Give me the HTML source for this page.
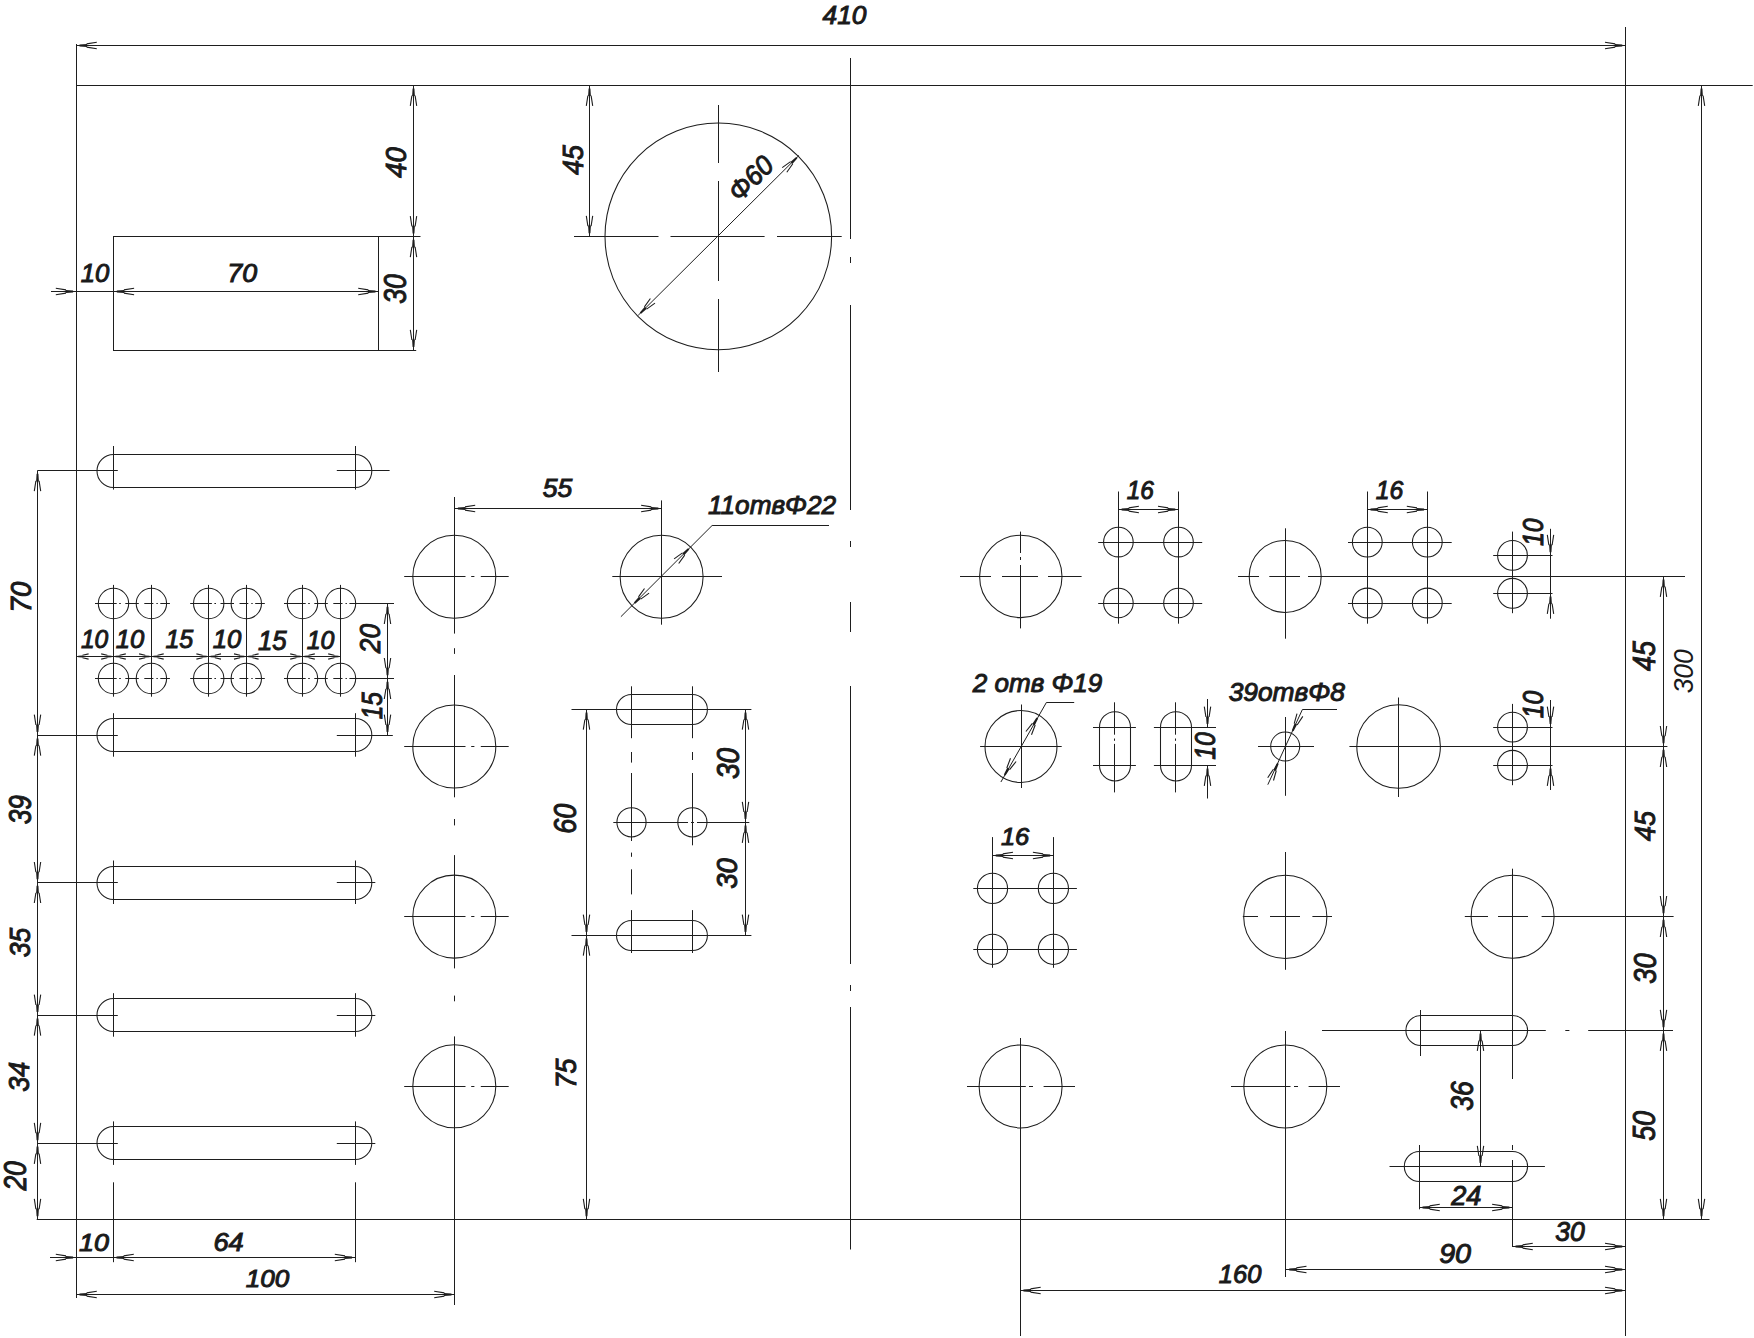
<!DOCTYPE html>
<html><head><meta charset="utf-8"><style>
html,body{margin:0;padding:0;background:#fff;}
svg{display:block;}
.g line,.g rect{fill:none;stroke:#1e1e1e;stroke-width:1;}
.g circle,.g path{fill:none;stroke:#1e1e1e;stroke-width:1.05;}
.g path.f{fill:#1c1c1c;stroke:none;}
.g path.w{stroke-width:1.1;}
text{font-family:"Liberation Sans",sans-serif;fill:#1a1a1a;}
.t{font-weight:normal;font-style:italic;text-anchor:middle;stroke:#1a1a1a;stroke-width:1.0;}
.tl{font-weight:normal;font-style:italic;stroke:#1a1a1a;stroke-width:1.0;}
.tr{font-weight:normal;font-style:italic;text-anchor:middle;}
</style></head><body>
<svg width="1754" height="1338" viewBox="0 0 1754 1338">
<rect x="0" y="0" width="1754" height="1338" fill="#fff"/>
<g class="g">
<line x1="76.3" y1="85.5" x2="1752.7" y2="85.5"/>
<line x1="76.5" y1="44" x2="76.5" y2="1298"/>
<line x1="1625.5" y1="27" x2="1625.5" y2="1336"/>
<line x1="36.7" y1="1219.5" x2="1709.5" y2="1219.5"/>
<line x1="850.5" y1="58" x2="850.5" y2="239"/>
<line x1="850.5" y1="257" x2="850.5" y2="263"/>
<line x1="850.5" y1="305" x2="850.5" y2="510"/>
<line x1="850.5" y1="541" x2="850.5" y2="547"/>
<line x1="850.5" y1="602" x2="850.5" y2="632"/>
<line x1="850.5" y1="686" x2="850.5" y2="964"/>
<line x1="850.5" y1="985" x2="850.5" y2="991"/>
<line x1="850.5" y1="1007" x2="850.5" y2="1249.5"/>
<line x1="76.3" y1="45.5" x2="1625.5" y2="45.5"/>
<path class="f" d="M79.5 46.4L87.1 46.9L87.1 44.1L79.5 44.6Z"/>
<path class="w" d="M86.6 47.1L96.8 48.7M86.6 43.9L96.8 42.3"/>
<path class="f" d="M1622.3 44.6L1614.7 44.1L1614.7 46.9L1622.3 46.4Z"/>
<path class="w" d="M1615.2 43.9L1605 42.3M1615.2 47.1L1605 48.7"/>
<line x1="1701.5" y1="85.3" x2="1701.5" y2="1219.4"/>
<path class="f" d="M1700.6 88.5L1700.1 96.1L1702.9 96.1L1702.4 88.5Z"/>
<path class="w" d="M1699.9 95.6L1698.3 105.8M1703.1 95.6L1704.7 105.8"/>
<path class="f" d="M1702.4 1216.2L1702.9 1208.6L1700.1 1208.6L1700.6 1216.2Z"/>
<path class="w" d="M1703.1 1209.1L1704.7 1198.9M1699.9 1209.1L1698.3 1198.9"/>
<line x1="1663.5" y1="576.4" x2="1663.5" y2="1219.4"/>
<path class="f" d="M1662.6 579.6L1662.1 587.2L1664.9 587.2L1664.4 579.6Z"/>
<path class="w" d="M1661.9 586.7L1660.3 596.9M1665.1 586.7L1666.7 596.9"/>
<path class="f" d="M1664.4 743.3L1664.9 735.7L1662.1 735.7L1662.6 743.3Z"/>
<path class="w" d="M1665.1 736.2L1666.7 726M1661.9 736.2L1660.3 726"/>
<path class="f" d="M1662.6 749.7L1662.1 757.3L1664.9 757.3L1664.4 749.7Z"/>
<path class="w" d="M1661.9 756.8L1660.3 767M1665.1 756.8L1666.7 767"/>
<path class="f" d="M1664.4 913.3L1664.9 905.7L1662.1 905.7L1662.6 913.3Z"/>
<path class="w" d="M1665.1 906.2L1666.7 896M1661.9 906.2L1660.3 896"/>
<path class="f" d="M1662.6 919.7L1662.1 927.3L1664.9 927.3L1664.4 919.7Z"/>
<path class="w" d="M1661.9 926.8L1660.3 937M1665.1 926.8L1666.7 937"/>
<path class="f" d="M1664.4 1027.2L1664.9 1019.6L1662.1 1019.6L1662.6 1027.2Z"/>
<path class="w" d="M1665.1 1020.1L1666.7 1009.9M1661.9 1020.1L1660.3 1009.9"/>
<path class="f" d="M1662.6 1033.6L1662.1 1041.2L1664.9 1041.2L1664.4 1033.6Z"/>
<path class="w" d="M1661.9 1040.7L1660.3 1050.9M1665.1 1040.7L1666.7 1050.9"/>
<path class="f" d="M1664.4 1216.2L1664.9 1208.6L1662.1 1208.6L1662.6 1216.2Z"/>
<path class="w" d="M1665.1 1209.1L1666.7 1198.9M1661.9 1209.1L1660.3 1198.9"/>
<line x1="1238" y1="576.5" x2="1259" y2="576.5"/>
<line x1="1269.3" y1="576.5" x2="1300" y2="576.5"/>
<line x1="1308" y1="576.5" x2="1685" y2="576.5"/>
<line x1="1349.4" y1="746.5" x2="1667.4" y2="746.5"/>
<line x1="1322" y1="1030.5" x2="1545.8" y2="1030.5"/>
<line x1="1565.3" y1="1030.5" x2="1569.4" y2="1030.5"/>
<line x1="1588.2" y1="1030.5" x2="1673" y2="1030.5"/>
<rect x="113.5" y="236.5" width="265" height="114"/>
<line x1="413.5" y1="85.3" x2="413.5" y2="350.3"/>
<path class="f" d="M412.6 88.5L412.1 96.1L414.9 96.1L414.4 88.5Z"/>
<path class="w" d="M411.9 95.6L410.3 105.8M415.1 95.6L416.7 105.8"/>
<path class="f" d="M414.4 233.4L414.9 225.8L412.1 225.8L412.6 233.4Z"/>
<path class="w" d="M415.1 226.3L416.7 216.1M411.9 226.3L410.3 216.1"/>
<path class="f" d="M412.6 239.8L412.1 247.4L414.9 247.4L414.4 239.8Z"/>
<path class="w" d="M411.9 246.9L410.3 257.1M415.1 246.9L416.7 257.1"/>
<path class="f" d="M414.4 347.1L414.9 339.5L412.1 339.5L412.6 347.1Z"/>
<path class="w" d="M415.1 340L416.7 329.8M411.9 340L410.3 329.8"/>
<line x1="378.7" y1="236.5" x2="420.5" y2="236.5"/>
<line x1="378.7" y1="350.5" x2="416.2" y2="350.5"/>
<line x1="51" y1="291.5" x2="378.7" y2="291.5"/>
<path class="f" d="M73.1 290.6L65.5 290.1L65.5 292.9L73.1 292.4Z"/>
<path class="w" d="M66 289.9L55.8 288.3M66 293.1L55.8 294.7"/>
<path class="f" d="M116.8 292.4L124.4 292.9L124.4 290.1L116.8 290.6Z"/>
<path class="w" d="M123.9 293.1L134.1 294.7M123.9 289.9L134.1 288.3"/>
<path class="f" d="M375.5 290.6L367.9 290.1L367.9 292.9L375.5 292.4Z"/>
<path class="w" d="M368.4 289.9L358.2 288.3M368.4 293.1L358.2 294.7"/>
<circle cx="718.3" cy="236.4" r="113.3"/>
<line x1="574" y1="236.5" x2="658.5" y2="236.5"/>
<line x1="670.5" y1="236.5" x2="764.6" y2="236.5"/>
<line x1="777" y1="236.5" x2="841.7" y2="236.5"/>
<line x1="718.5" y1="105" x2="718.5" y2="163"/>
<line x1="718.5" y1="181" x2="718.5" y2="281"/>
<line x1="718.5" y1="299" x2="718.5" y2="372"/>
<line x1="638.2" y1="315.3" x2="799" y2="155.4"/>
<path class="f" d="M796.1 157L790.4 162L792.4 164L797.4 158.3Z"/>
<path class="w" d="M790.6 161.6L782.2 167.6M792.8 163.8L786.8 172.2"/>
<path class="f" d="M641.1 313.7L646.8 308.7L644.8 306.7L639.8 312.4Z"/>
<path class="w" d="M646.6 309.1L655 303.1M644.4 306.9L650.4 298.5"/>
<line x1="589.5" y1="85.3" x2="589.5" y2="236.4"/>
<path class="f" d="M588.6 88.5L588.1 96.1L590.9 96.1L590.4 88.5Z"/>
<path class="w" d="M587.9 95.6L586.3 105.8M591.1 95.6L592.7 105.8"/>
<path class="f" d="M590.4 233.2L590.9 225.6L588.1 225.6L588.6 233.2Z"/>
<path class="w" d="M591.1 226.1L592.7 215.9M587.9 226.1L586.3 215.9"/>
<path d="M113.5 454.5H355.3A16.5 16.5 0 0 1 355.3 487.5H113.5A16.5 16.5 0 0 1 113.5 454.5Z"/>
<line x1="37.4" y1="470.5" x2="117.8" y2="470.5"/>
<line x1="336.8" y1="470.5" x2="389.6" y2="470.5"/>
<line x1="113.5" y1="446" x2="113.5" y2="489.6"/>
<line x1="355.5" y1="446" x2="355.5" y2="489.6"/>
<path d="M113.5 718.5H355.3A16.5 16.5 0 0 1 355.3 751.5H113.5A16.5 16.5 0 0 1 113.5 718.5Z"/>
<line x1="37.4" y1="735.5" x2="117.8" y2="735.5"/>
<line x1="336.8" y1="735.5" x2="375.3" y2="735.5"/>
<line x1="113.5" y1="713.2" x2="113.5" y2="756.7"/>
<line x1="355.5" y1="713.2" x2="355.5" y2="756.7"/>
<path d="M113.5 866.5H355.3A16.5 16.5 0 0 1 355.3 899.5H113.5A16.5 16.5 0 0 1 113.5 866.5Z"/>
<line x1="37.4" y1="882.5" x2="117.8" y2="882.5"/>
<line x1="336.8" y1="882.5" x2="375.3" y2="882.5"/>
<line x1="113.5" y1="860.5" x2="113.5" y2="904"/>
<line x1="355.5" y1="860.5" x2="355.5" y2="904"/>
<path d="M113.5 998.5H355.3A16.5 16.5 0 0 1 355.3 1031.5H113.5A16.5 16.5 0 0 1 113.5 998.5Z"/>
<line x1="37.4" y1="1015.5" x2="117.8" y2="1015.5"/>
<line x1="336.8" y1="1015.5" x2="375.3" y2="1015.5"/>
<line x1="113.5" y1="993.2" x2="113.5" y2="1036.7"/>
<line x1="355.5" y1="993.2" x2="355.5" y2="1036.7"/>
<path d="M113.5 1126.5H355.3A16.5 16.5 0 0 1 355.3 1159.5H113.5A16.5 16.5 0 0 1 113.5 1126.5Z"/>
<line x1="37.4" y1="1143.5" x2="117.8" y2="1143.5"/>
<line x1="336.8" y1="1143.5" x2="375.3" y2="1143.5"/>
<line x1="113.5" y1="1121.4" x2="113.5" y2="1164.9"/>
<line x1="355.5" y1="1121.4" x2="355.5" y2="1164.9"/>
<line x1="37.5" y1="470.6" x2="37.5" y2="1219.4"/>
<path class="f" d="M36.6 473.8L36.1 481.4L38.9 481.4L38.4 473.8Z"/>
<path class="w" d="M35.9 480.9L34.3 491.1M39.1 480.9L40.7 491.1"/>
<path class="f" d="M38.4 732L38.9 724.4L36.1 724.4L36.6 732Z"/>
<path class="w" d="M39.1 724.9L40.7 714.7M35.9 724.9L34.3 714.7"/>
<path class="f" d="M36.6 738.4L36.1 746L38.9 746L38.4 738.4Z"/>
<path class="w" d="M35.9 745.5L34.3 755.7M39.1 745.5L40.7 755.7"/>
<path class="f" d="M38.4 879.3L38.9 871.7L36.1 871.7L36.6 879.3Z"/>
<path class="w" d="M39.1 872.2L40.7 862M35.9 872.2L34.3 862"/>
<path class="f" d="M36.6 885.7L36.1 893.3L38.9 893.3L38.4 885.7Z"/>
<path class="w" d="M35.9 892.8L34.3 903M39.1 892.8L40.7 903"/>
<path class="f" d="M38.4 1012L38.9 1004.4L36.1 1004.4L36.6 1012Z"/>
<path class="w" d="M39.1 1004.9L40.7 994.7M35.9 1004.9L34.3 994.7"/>
<path class="f" d="M36.6 1018.4L36.1 1026L38.9 1026L38.4 1018.4Z"/>
<path class="w" d="M35.9 1025.5L34.3 1035.7M39.1 1025.5L40.7 1035.7"/>
<path class="f" d="M38.4 1140.2L38.9 1132.6L36.1 1132.6L36.6 1140.2Z"/>
<path class="w" d="M39.1 1133.1L40.7 1122.9M35.9 1133.1L34.3 1122.9"/>
<path class="f" d="M36.6 1146.6L36.1 1154.2L38.9 1154.2L38.4 1146.6Z"/>
<path class="w" d="M35.9 1153.7L34.3 1163.9M39.1 1153.7L40.7 1163.9"/>
<path class="f" d="M38.4 1216.2L38.9 1208.6L36.1 1208.6L36.6 1216.2Z"/>
<path class="w" d="M39.1 1209.1L40.7 1198.9M35.9 1209.1L34.3 1198.9"/>
<line x1="113.5" y1="1182.3" x2="113.5" y2="1262.2"/>
<line x1="355.5" y1="1182.3" x2="355.5" y2="1262.2"/>
<line x1="50" y1="1257.5" x2="355.3" y2="1257.5"/>
<path class="f" d="M73.1 1256.6L65.5 1256.1L65.5 1258.9L73.1 1258.4Z"/>
<path class="w" d="M66 1255.9L55.8 1254.3M66 1259.1L55.8 1260.7"/>
<path class="f" d="M116.5 1258.4L124.1 1258.9L124.1 1256.1L116.5 1256.6Z"/>
<path class="w" d="M123.6 1259.1L133.8 1260.7M123.6 1255.9L133.8 1254.3"/>
<path class="f" d="M352.1 1256.6L344.5 1256.1L344.5 1258.9L352.1 1258.4Z"/>
<path class="w" d="M345 1255.9L334.8 1254.3M345 1259.1L334.8 1260.7"/>
<line x1="76.3" y1="1294.5" x2="454.7" y2="1294.5"/>
<path class="f" d="M79.5 1295.4L87.1 1295.9L87.1 1293.1L79.5 1293.6Z"/>
<path class="w" d="M86.6 1296.1L96.8 1297.7M86.6 1292.9L96.8 1291.3"/>
<path class="f" d="M451.5 1293.6L443.9 1293.1L443.9 1295.9L451.5 1295.4Z"/>
<path class="w" d="M444.4 1292.9L434.2 1291.3M444.4 1296.1L434.2 1297.7"/>
<circle cx="113.5" cy="603.5" r="15.2"/>
<circle cx="151.4" cy="603.5" r="15.2"/>
<circle cx="208.7" cy="603.5" r="15.2"/>
<circle cx="246.3" cy="603.5" r="15.2"/>
<circle cx="302.5" cy="603.5" r="15.2"/>
<circle cx="340.5" cy="603.5" r="15.2"/>
<line x1="95" y1="603.5" x2="116.7" y2="603.5"/>
<line x1="119.2" y1="603.5" x2="120.8" y2="603.5"/>
<line x1="125.3" y1="603.5" x2="138.8" y2="603.5"/>
<line x1="144.3" y1="603.5" x2="153.4" y2="603.5"/>
<line x1="156.4" y1="603.5" x2="157.8" y2="603.5"/>
<line x1="160.3" y1="603.5" x2="169.9" y2="603.5"/>
<line x1="190.2" y1="603.5" x2="211.9" y2="603.5"/>
<line x1="214.4" y1="603.5" x2="216" y2="603.5"/>
<line x1="220.5" y1="603.5" x2="234" y2="603.5"/>
<line x1="239.5" y1="603.5" x2="248.3" y2="603.5"/>
<line x1="251.3" y1="603.5" x2="252.7" y2="603.5"/>
<line x1="255.2" y1="603.5" x2="264.8" y2="603.5"/>
<line x1="284" y1="603.5" x2="305.7" y2="603.5"/>
<line x1="308.2" y1="603.5" x2="309.8" y2="603.5"/>
<line x1="314.3" y1="603.5" x2="327.8" y2="603.5"/>
<line x1="333.3" y1="603.5" x2="342.5" y2="603.5"/>
<line x1="345.5" y1="603.5" x2="346.9" y2="603.5"/>
<line x1="349.4" y1="603.5" x2="359" y2="603.5"/>
<circle cx="113.5" cy="678.5" r="15.2"/>
<circle cx="151.4" cy="678.5" r="15.2"/>
<circle cx="208.7" cy="678.5" r="15.2"/>
<circle cx="246.3" cy="678.5" r="15.2"/>
<circle cx="302.5" cy="678.5" r="15.2"/>
<circle cx="340.5" cy="678.5" r="15.2"/>
<line x1="95" y1="678.5" x2="116.7" y2="678.5"/>
<line x1="119.2" y1="678.5" x2="120.8" y2="678.5"/>
<line x1="125.3" y1="678.5" x2="138.8" y2="678.5"/>
<line x1="144.3" y1="678.5" x2="153.4" y2="678.5"/>
<line x1="156.4" y1="678.5" x2="157.8" y2="678.5"/>
<line x1="160.3" y1="678.5" x2="169.9" y2="678.5"/>
<line x1="190.2" y1="678.5" x2="211.9" y2="678.5"/>
<line x1="214.4" y1="678.5" x2="216" y2="678.5"/>
<line x1="220.5" y1="678.5" x2="234" y2="678.5"/>
<line x1="239.5" y1="678.5" x2="248.3" y2="678.5"/>
<line x1="251.3" y1="678.5" x2="252.7" y2="678.5"/>
<line x1="255.2" y1="678.5" x2="264.8" y2="678.5"/>
<line x1="284" y1="678.5" x2="305.7" y2="678.5"/>
<line x1="308.2" y1="678.5" x2="309.8" y2="678.5"/>
<line x1="314.3" y1="678.5" x2="327.8" y2="678.5"/>
<line x1="333.3" y1="678.5" x2="342.5" y2="678.5"/>
<line x1="345.5" y1="678.5" x2="346.9" y2="678.5"/>
<line x1="349.4" y1="678.5" x2="359" y2="678.5"/>
<line x1="113.5" y1="584.9" x2="113.5" y2="696.7"/>
<line x1="151.5" y1="584.9" x2="151.5" y2="696.7"/>
<line x1="208.5" y1="584.9" x2="208.5" y2="696.7"/>
<line x1="246.5" y1="584.9" x2="246.5" y2="696.7"/>
<line x1="302.5" y1="584.9" x2="302.5" y2="696.7"/>
<line x1="340.5" y1="584.9" x2="340.5" y2="696.7"/>
<line x1="76.3" y1="656.5" x2="340.5" y2="656.5"/>
<path class="f" d="M78.2 657.2L82.8 657.6L82.8 655.4L78.2 655.8Z"/>
<path class="w" d="M82.5 657.8L88.6 659.1M82.5 655.2L88.6 653.9"/>
<path class="f" d="M111.6 655.8L107 655.4L107 657.6L111.6 657.2Z"/>
<path class="w" d="M107.3 655.2L101.2 653.9M107.3 657.8L101.2 659.1"/>
<path class="f" d="M115.4 657.2L120 657.6L120 655.4L115.4 655.8Z"/>
<path class="w" d="M119.7 657.8L125.8 659.1M119.7 655.2L125.8 653.9"/>
<path class="f" d="M149.5 655.8L144.9 655.4L144.9 657.6L149.5 657.2Z"/>
<path class="w" d="M145.2 655.2L139.1 653.9M145.2 657.8L139.1 659.1"/>
<path class="f" d="M153.3 657.2L157.9 657.6L157.9 655.4L153.3 655.8Z"/>
<path class="w" d="M157.6 657.8L163.7 659.1M157.6 655.2L163.7 653.9"/>
<path class="f" d="M206.8 655.8L202.2 655.4L202.2 657.6L206.8 657.2Z"/>
<path class="w" d="M202.5 655.2L196.4 653.9M202.5 657.8L196.4 659.1"/>
<path class="f" d="M210.6 657.2L215.2 657.6L215.2 655.4L210.6 655.8Z"/>
<path class="w" d="M214.9 657.8L221 659.1M214.9 655.2L221 653.9"/>
<path class="f" d="M244.4 655.8L239.8 655.4L239.8 657.6L244.4 657.2Z"/>
<path class="w" d="M240.1 655.2L234 653.9M240.1 657.8L234 659.1"/>
<path class="f" d="M248.2 657.2L252.8 657.6L252.8 655.4L248.2 655.8Z"/>
<path class="w" d="M252.5 657.8L258.6 659.1M252.5 655.2L258.6 653.9"/>
<path class="f" d="M300.6 655.8L296 655.4L296 657.6L300.6 657.2Z"/>
<path class="w" d="M296.3 655.2L290.2 653.9M296.3 657.8L290.2 659.1"/>
<path class="f" d="M304.4 657.2L309 657.6L309 655.4L304.4 655.8Z"/>
<path class="w" d="M308.7 657.8L314.8 659.1M308.7 655.2L314.8 653.9"/>
<path class="f" d="M338.6 655.8L334 655.4L334 657.6L338.6 657.2Z"/>
<path class="w" d="M334.3 655.2L328.2 653.9M334.3 657.8L328.2 659.1"/>
<line x1="387.5" y1="603.5" x2="387.5" y2="735.2"/>
<path class="f" d="M386.6 606.7L386.1 614.3L388.9 614.3L388.4 606.7Z"/>
<path class="w" d="M385.9 613.8L384.3 624M389.1 613.8L390.7 624"/>
<path class="f" d="M388.4 675.3L388.9 667.7L386.1 667.7L386.6 675.3Z"/>
<path class="w" d="M389.1 668.2L390.7 658M385.9 668.2L384.3 658"/>
<path class="f" d="M386.6 681.7L386.1 689.3L388.9 689.3L388.4 681.7Z"/>
<path class="w" d="M385.9 688.8L384.3 699M389.1 688.8L390.7 699"/>
<path class="f" d="M388.4 732L388.9 724.4L386.1 724.4L386.6 732Z"/>
<path class="w" d="M389.1 724.9L390.7 714.7M385.9 724.9L384.3 714.7"/>
<line x1="356.5" y1="603.5" x2="394" y2="603.5"/>
<line x1="356.5" y1="678.5" x2="394" y2="678.5"/>
<line x1="372" y1="735.5" x2="392.8" y2="735.5"/>
<circle cx="454.3" cy="576.7" r="41.5"/>
<line x1="404.2" y1="576.5" x2="465.5" y2="576.5"/>
<line x1="471.2" y1="576.5" x2="474.4" y2="576.5"/>
<line x1="480.8" y1="576.5" x2="508.7" y2="576.5"/>
<circle cx="454.3" cy="746.5" r="41.5"/>
<line x1="404.2" y1="746.5" x2="465.5" y2="746.5"/>
<line x1="471.2" y1="746.5" x2="474.4" y2="746.5"/>
<line x1="480.8" y1="746.5" x2="508.7" y2="746.5"/>
<circle cx="454.3" cy="916.6" r="41.5"/>
<line x1="404.2" y1="916.5" x2="465.5" y2="916.5"/>
<line x1="471.2" y1="916.5" x2="474.4" y2="916.5"/>
<line x1="480.8" y1="916.5" x2="508.7" y2="916.5"/>
<circle cx="454.3" cy="1086.3" r="41.5"/>
<line x1="404.2" y1="1086.5" x2="465.5" y2="1086.5"/>
<line x1="471.2" y1="1086.5" x2="474.4" y2="1086.5"/>
<line x1="480.8" y1="1086.5" x2="508.7" y2="1086.5"/>
<line x1="454.5" y1="497" x2="454.5" y2="633.6"/>
<line x1="454.5" y1="648.2" x2="454.5" y2="653.9"/>
<line x1="454.5" y1="675" x2="454.5" y2="797.3"/>
<line x1="454.5" y1="819" x2="454.5" y2="825.4"/>
<line x1="454.5" y1="855.1" x2="454.5" y2="968.4"/>
<line x1="454.5" y1="995.6" x2="454.5" y2="1001.3"/>
<line x1="454.5" y1="1036.4" x2="454.5" y2="1305"/>
<circle cx="661.6" cy="576.8" r="41.5"/>
<line x1="612.3" y1="576.5" x2="722" y2="576.5"/>
<line x1="661.5" y1="500.4" x2="661.5" y2="624.7"/>
<line x1="454.7" y1="508.5" x2="661.6" y2="508.5"/>
<path class="f" d="M457.9 509.4L465.5 509.9L465.5 507.1L457.9 507.6Z"/>
<path class="w" d="M465 510.1L475.2 511.7M465 506.9L475.2 505.3"/>
<path class="f" d="M658.4 507.6L650.8 507.1L650.8 509.9L658.4 509.4Z"/>
<path class="w" d="M651.3 506.9L641.1 505.3M651.3 510.1L641.1 511.7"/>
<line x1="620.9" y1="616.7" x2="712.1" y2="525.5"/>
<line x1="712.1" y1="525.5" x2="829" y2="525.5"/>
<path class="f" d="M635.2 603.7L640.9 598.7L638.9 596.7L633.9 602.4Z"/>
<path class="w" d="M640.7 599.1L649.1 593.1M638.5 596.9L644.5 588.5"/>
<path class="f" d="M688 548.3L682.3 553.3L684.3 555.3L689.3 549.6Z"/>
<path class="w" d="M682.5 552.9L674.1 558.9M684.7 555.1L678.7 563.5"/>
<path d="M631.5 694.5H692.4A15 15 0 0 1 692.4 724.5H631.5A15 15 0 0 1 631.5 694.5Z"/>
<path d="M631.5 920.5H692.4A15 15 0 0 1 692.4 950.5H631.5A15 15 0 0 1 631.5 920.5Z"/>
<circle cx="631.5" cy="822.3" r="14.6"/>
<circle cx="692.4" cy="822.3" r="14.6"/>
<line x1="631.5" y1="686.3" x2="631.5" y2="738.2"/>
<line x1="631.5" y1="752" x2="631.5" y2="762.6"/>
<line x1="631.5" y1="773" x2="631.5" y2="841"/>
<line x1="631.5" y1="852.6" x2="631.5" y2="856.8"/>
<line x1="631.5" y1="869.3" x2="631.5" y2="894.4"/>
<line x1="631.5" y1="910.1" x2="631.5" y2="953"/>
<line x1="692.5" y1="686.3" x2="692.5" y2="738.2"/>
<line x1="692.5" y1="752" x2="692.5" y2="760"/>
<line x1="692.5" y1="773" x2="692.5" y2="845.3"/>
<line x1="692.5" y1="910.1" x2="692.5" y2="953"/>
<line x1="571.5" y1="709.5" x2="751.4" y2="709.5"/>
<line x1="571.5" y1="935.5" x2="751.4" y2="935.5"/>
<line x1="613.3" y1="822.5" x2="688" y2="822.5"/>
<line x1="691" y1="822.5" x2="694" y2="822.5"/>
<line x1="697" y1="822.5" x2="749.3" y2="822.5"/>
<line x1="586.5" y1="709.2" x2="586.5" y2="1219.4"/>
<path class="f" d="M585.6 712.4L585.1 720L587.9 720L587.4 712.4Z"/>
<path class="w" d="M584.9 719.5L583.3 729.7M588.1 719.5L589.7 729.7"/>
<path class="f" d="M587.4 932L587.9 924.4L585.1 924.4L585.6 932Z"/>
<path class="w" d="M588.1 924.9L589.7 914.7M584.9 924.9L583.3 914.7"/>
<path class="f" d="M585.6 938.4L585.1 946L587.9 946L587.4 938.4Z"/>
<path class="w" d="M584.9 945.5L583.3 955.7M588.1 945.5L589.7 955.7"/>
<path class="f" d="M587.4 1216.2L587.9 1208.6L585.1 1208.6L585.6 1216.2Z"/>
<path class="w" d="M588.1 1209.1L589.7 1198.9M584.9 1209.1L583.3 1198.9"/>
<line x1="745.5" y1="709.2" x2="745.5" y2="935.2"/>
<path class="f" d="M744.6 712.4L744.1 720L746.9 720L746.4 712.4Z"/>
<path class="w" d="M743.9 719.5L742.3 729.7M747.1 719.5L748.7 729.7"/>
<path class="f" d="M746.4 819.1L746.9 811.5L744.1 811.5L744.6 819.1Z"/>
<path class="w" d="M747.1 812L748.7 801.8M743.9 812L742.3 801.8"/>
<path class="f" d="M744.6 825.5L744.1 833.1L746.9 833.1L746.4 825.5Z"/>
<path class="w" d="M743.9 832.6L742.3 842.8M747.1 832.6L748.7 842.8"/>
<path class="f" d="M746.4 932L746.9 924.4L744.1 924.4L744.6 932Z"/>
<path class="w" d="M747.1 924.9L748.7 914.7M743.9 924.9L742.3 914.7"/>
<circle cx="1020.8" cy="576.4" r="41.2"/>
<line x1="960" y1="576.5" x2="991" y2="576.5"/>
<line x1="1002" y1="576.5" x2="1038" y2="576.5"/>
<line x1="1048" y1="576.5" x2="1081.6" y2="576.5"/>
<line x1="1020.5" y1="531.6" x2="1020.5" y2="553"/>
<line x1="1020.5" y1="557" x2="1020.5" y2="560"/>
<line x1="1020.5" y1="565" x2="1020.5" y2="628.4"/>
<circle cx="1118.4" cy="542.1" r="14.8"/>
<circle cx="1118.4" cy="603" r="14.8"/>
<circle cx="1178.5" cy="542.1" r="14.8"/>
<circle cx="1178.5" cy="603" r="14.8"/>
<line x1="1098.2" y1="542.5" x2="1202.2" y2="542.5"/>
<line x1="1098.2" y1="603.5" x2="1202.2" y2="603.5"/>
<line x1="1118.5" y1="491.5" x2="1118.5" y2="623.7"/>
<line x1="1178.5" y1="491.5" x2="1178.5" y2="623.7"/>
<line x1="1118.4" y1="509.5" x2="1178.5" y2="509.5"/>
<path class="f" d="M1121.6 510.4L1129.2 510.9L1129.2 508.1L1121.6 508.6Z"/>
<path class="w" d="M1128.7 511.1L1138.9 512.7M1128.7 507.9L1138.9 506.3"/>
<path class="f" d="M1175.3 508.6L1167.7 508.1L1167.7 510.9L1175.3 510.4Z"/>
<path class="w" d="M1168.2 507.9L1158 506.3M1168.2 511.1L1158 512.7"/>
<circle cx="1285.2" cy="576.4" r="36"/>
<line x1="1285.5" y1="528.3" x2="1285.5" y2="638.7"/>
<circle cx="1367.3" cy="542.1" r="14.9"/>
<circle cx="1367.3" cy="603" r="14.9"/>
<circle cx="1427.3" cy="542.1" r="14.9"/>
<circle cx="1427.3" cy="603" r="14.9"/>
<line x1="1348" y1="542.5" x2="1451.7" y2="542.5"/>
<line x1="1348" y1="603.5" x2="1451.7" y2="603.5"/>
<line x1="1367.5" y1="491.5" x2="1367.5" y2="623.7"/>
<line x1="1427.5" y1="491.5" x2="1427.5" y2="623.7"/>
<line x1="1367.3" y1="509.5" x2="1427.3" y2="509.5"/>
<path class="f" d="M1370.5 510.4L1378.1 510.9L1378.1 508.1L1370.5 508.6Z"/>
<path class="w" d="M1377.6 511.1L1387.8 512.7M1377.6 507.9L1387.8 506.3"/>
<path class="f" d="M1424.1 508.6L1416.5 508.1L1416.5 510.9L1424.1 510.4Z"/>
<path class="w" d="M1417 507.9L1406.8 506.3M1417 511.1L1406.8 512.7"/>
<circle cx="1512.5" cy="555.4" r="14.9"/>
<line x1="1493.2" y1="555.5" x2="1552.5" y2="555.5"/>
<circle cx="1512.5" cy="593.3" r="14.9"/>
<line x1="1493.2" y1="593.5" x2="1552.5" y2="593.5"/>
<line x1="1512.5" y1="531.6" x2="1512.5" y2="613.2"/>
<line x1="1550.5" y1="528.8" x2="1550.5" y2="618.7"/>
<path class="f" d="M1551.4 552.2L1551.9 544.6L1549.1 544.6L1549.6 552.2Z"/>
<path class="w" d="M1552.1 545.1L1553.7 534.9M1548.9 545.1L1547.3 534.9"/>
<path class="f" d="M1549.6 596.5L1549.1 604.1L1551.9 604.1L1551.4 596.5Z"/>
<path class="w" d="M1548.9 603.6L1547.3 613.8M1552.1 603.6L1553.7 613.8"/>
<circle cx="1512.5" cy="727.1" r="14.9"/>
<line x1="1493.2" y1="727.5" x2="1552.5" y2="727.5"/>
<circle cx="1512.5" cy="765.3" r="14.9"/>
<line x1="1493.2" y1="765.5" x2="1552.5" y2="765.5"/>
<line x1="1512.5" y1="703.9" x2="1512.5" y2="785.2"/>
<line x1="1550.5" y1="700" x2="1550.5" y2="790"/>
<path class="f" d="M1551.4 723.9L1551.9 716.3L1549.1 716.3L1549.6 723.9Z"/>
<path class="w" d="M1552.1 716.8L1553.7 706.6M1548.9 716.8L1547.3 706.6"/>
<path class="f" d="M1549.6 768.5L1549.1 776.1L1551.9 776.1L1551.4 768.5Z"/>
<path class="w" d="M1548.9 775.6L1547.3 785.8M1552.1 775.6L1553.7 785.8"/>
<circle cx="1021" cy="746.5" r="36"/>
<line x1="980.1" y1="746.5" x2="1061.7" y2="746.5"/>
<line x1="1021.5" y1="704.5" x2="1021.5" y2="788"/>
<line x1="1000.9" y1="782" x2="1046.5" y2="702.3"/>
<line x1="1046.5" y1="702.5" x2="1074.2" y2="702.5"/>
<path class="f" d="M1005.5 775.4L1009.7 769L1007.3 767.6L1003.9 774.5Z"/>
<path class="w" d="M1009.6 769.6L1016.1 761.5M1006.8 768L1010.5 758.3"/>
<path class="f" d="M1036.5 717.6L1032.3 724L1034.7 725.4L1038.1 718.5Z"/>
<path class="w" d="M1032.4 723.4L1025.9 731.5M1035.2 725L1031.5 734.7"/>
<path d="M1099.5 727.2A15.5 15.5 0 0 1 1130.5 727.2V765.4A15.5 15.5 0 0 1 1099.5 765.4Z"/>
<line x1="1093" y1="727.5" x2="1135.9" y2="727.5"/>
<line x1="1093" y1="765.5" x2="1135.9" y2="765.5"/>
<line x1="1114.5" y1="702.3" x2="1114.5" y2="734.7"/>
<line x1="1114.5" y1="738.5" x2="1114.5" y2="740.8"/>
<line x1="1114.5" y1="743.9" x2="1114.5" y2="792.4"/>
<path d="M1160.5 727.2A15.5 15.5 0 0 1 1191.5 727.2V765.4A15.5 15.5 0 0 1 1160.5 765.4Z"/>
<line x1="1153.9" y1="727.5" x2="1216" y2="727.5"/>
<line x1="1153.9" y1="765.5" x2="1216" y2="765.5"/>
<line x1="1175.5" y1="702.3" x2="1175.5" y2="734.7"/>
<line x1="1175.5" y1="738.5" x2="1175.5" y2="740.8"/>
<line x1="1175.5" y1="743.9" x2="1175.5" y2="792.4"/>
<line x1="1207.5" y1="699" x2="1207.5" y2="727.2"/>
<line x1="1207.5" y1="765.4" x2="1207.5" y2="798.5"/>
<path class="f" d="M1208.4 724L1208.9 716.4L1206.1 716.4L1206.6 724Z"/>
<path class="w" d="M1209.1 716.9L1210.7 706.7M1205.9 716.9L1204.3 706.7"/>
<path class="f" d="M1206.6 768.6L1206.1 776.2L1208.9 776.2L1208.4 768.6Z"/>
<path class="w" d="M1205.9 775.7L1204.3 785.9M1209.1 775.7L1210.7 785.9"/>
<circle cx="1285.2" cy="746.5" r="14.5"/>
<line x1="1258" y1="746.5" x2="1314" y2="746.5"/>
<line x1="1285.5" y1="717" x2="1285.5" y2="795.8"/>
<line x1="1267.8" y1="784.7" x2="1302.4" y2="709.5"/>
<line x1="1302.4" y1="709.5" x2="1337" y2="709.5"/>
<path class="f" d="M1277 763L1273.4 769.7L1275.9 770.9L1278.7 763.8Z"/>
<path class="w" d="M1273.4 769.2L1267.7 777.8M1276.3 770.5L1273.5 780.5"/>
<path class="f" d="M1293.5 731.2L1297.1 724.5L1294.6 723.3L1291.8 730.4Z"/>
<path class="w" d="M1297.1 725L1302.8 716.4M1294.2 723.7L1297 713.7"/>
<circle cx="1398.6" cy="746.5" r="41.8"/>
<line x1="1398.5" y1="697.5" x2="1398.5" y2="797"/>
<circle cx="992.5" cy="888.4" r="15.1"/>
<circle cx="992.5" cy="949.3" r="15.1"/>
<circle cx="1053.4" cy="888.4" r="15.1"/>
<circle cx="1053.4" cy="949.3" r="15.1"/>
<line x1="973.3" y1="888.5" x2="1076.9" y2="888.5"/>
<line x1="973.3" y1="949.5" x2="1076.9" y2="949.5"/>
<line x1="992.5" y1="837.1" x2="992.5" y2="967.8"/>
<line x1="1053.5" y1="837.1" x2="1053.5" y2="967.8"/>
<line x1="992.5" y1="855.5" x2="1053.4" y2="855.5"/>
<path class="f" d="M995.7 856.4L1003.3 856.9L1003.3 854.1L995.7 854.6Z"/>
<path class="w" d="M1002.8 857.1L1013 858.7M1002.8 853.9L1013 852.3"/>
<path class="f" d="M1050.2 854.6L1042.6 854.1L1042.6 856.9L1050.2 856.4Z"/>
<path class="w" d="M1043.1 853.9L1032.9 852.3M1043.1 857.1L1032.9 858.7"/>
<circle cx="1285.3" cy="916.9" r="41.6"/>
<line x1="1285.5" y1="852" x2="1285.5" y2="969.8"/>
<line x1="1242.8" y1="916.5" x2="1258" y2="916.5"/>
<line x1="1270" y1="916.5" x2="1300" y2="916.5"/>
<line x1="1312.4" y1="916.5" x2="1332" y2="916.5"/>
<circle cx="1020.6" cy="1086.4" r="41.5"/>
<line x1="967" y1="1086.5" x2="1025.8" y2="1086.5"/>
<line x1="1029" y1="1086.5" x2="1033" y2="1086.5"/>
<line x1="1043.6" y1="1086.5" x2="1075" y2="1086.5"/>
<line x1="1020.5" y1="1038" x2="1020.5" y2="1336"/>
<circle cx="1285.3" cy="1086.4" r="41.5"/>
<line x1="1231" y1="1086.5" x2="1290.5" y2="1086.5"/>
<line x1="1294" y1="1086.5" x2="1298" y2="1086.5"/>
<line x1="1308.6" y1="1086.5" x2="1340" y2="1086.5"/>
<line x1="1285.5" y1="1031" x2="1285.5" y2="1277"/>
<circle cx="1512.6" cy="916.7" r="41.5"/>
<line x1="1464.8" y1="916.5" x2="1488" y2="916.5"/>
<line x1="1498" y1="916.5" x2="1528" y2="916.5"/>
<line x1="1541.6" y1="916.5" x2="1673.6" y2="916.5"/>
<line x1="1512.5" y1="868.7" x2="1512.5" y2="1079"/>
<path d="M1420.9 1015.5H1512.6A15 15 0 0 1 1512.6 1045.5H1420.9A15 15 0 0 1 1420.9 1015.5Z"/>
<line x1="1420.5" y1="1010" x2="1420.5" y2="1056"/>
<path d="M1419.3 1151.5H1512.6A15 15 0 0 1 1512.6 1181.5H1419.3A15 15 0 0 1 1419.3 1151.5Z"/>
<line x1="1389.5" y1="1166.5" x2="1544.9" y2="1166.5"/>
<line x1="1419.5" y1="1145" x2="1419.5" y2="1209.3"/>
<line x1="1512.5" y1="1145" x2="1512.5" y2="1150"/>
<line x1="1512.5" y1="1160" x2="1512.5" y2="1247"/>
<line x1="1480.5" y1="1030.4" x2="1480.5" y2="1166.3"/>
<path class="f" d="M1479.6 1033.6L1479.1 1041.2L1481.9 1041.2L1481.4 1033.6Z"/>
<path class="w" d="M1478.9 1040.7L1477.3 1050.9M1482.1 1040.7L1483.7 1050.9"/>
<path class="f" d="M1481.4 1163.1L1481.9 1155.5L1479.1 1155.5L1479.6 1163.1Z"/>
<path class="w" d="M1482.1 1156L1483.7 1145.8M1478.9 1156L1477.3 1145.8"/>
<line x1="1419.3" y1="1207.5" x2="1512.6" y2="1207.5"/>
<path class="f" d="M1422.5 1208.4L1430.1 1208.9L1430.1 1206.1L1422.5 1206.6Z"/>
<path class="w" d="M1429.6 1209.1L1439.8 1210.7M1429.6 1205.9L1439.8 1204.3"/>
<path class="f" d="M1509.4 1206.6L1501.8 1206.1L1501.8 1208.9L1509.4 1208.4Z"/>
<path class="w" d="M1502.3 1205.9L1492.1 1204.3M1502.3 1209.1L1492.1 1210.7"/>
<line x1="1512.3" y1="1246.5" x2="1625.5" y2="1246.5"/>
<path class="f" d="M1515.5 1247.4L1523.1 1247.9L1523.1 1245.1L1515.5 1245.6Z"/>
<path class="w" d="M1522.6 1248.1L1532.8 1249.7M1522.6 1244.9L1532.8 1243.3"/>
<path class="f" d="M1622.3 1245.6L1614.7 1245.1L1614.7 1247.9L1622.3 1247.4Z"/>
<path class="w" d="M1615.2 1244.9L1605 1243.3M1615.2 1248.1L1605 1249.7"/>
<line x1="1286" y1="1269.5" x2="1625.5" y2="1269.5"/>
<path class="f" d="M1289.2 1270.4L1296.8 1270.9L1296.8 1268.1L1289.2 1268.6Z"/>
<path class="w" d="M1296.3 1271.1L1306.5 1272.7M1296.3 1267.9L1306.5 1266.3"/>
<path class="f" d="M1622.3 1268.6L1614.7 1268.1L1614.7 1270.9L1622.3 1270.4Z"/>
<path class="w" d="M1615.2 1267.9L1605 1266.3M1615.2 1271.1L1605 1272.7"/>
<line x1="1020.2" y1="1290.5" x2="1625.5" y2="1290.5"/>
<path class="f" d="M1023.4 1291.4L1031 1291.9L1031 1289.1L1023.4 1289.6Z"/>
<path class="w" d="M1030.5 1292.1L1040.7 1293.7M1030.5 1288.9L1040.7 1287.3"/>
<path class="f" d="M1622.3 1289.6L1614.7 1289.1L1614.7 1291.9L1622.3 1291.4Z"/>
<path class="w" d="M1615.2 1288.9L1605 1287.3M1615.2 1292.1L1605 1293.7"/>
</g>
<text class="t" transform="translate(844.5 15) rotate(0) scale(0.9999 1)" x="0" y="9.4" font-size="26.4">410</text>
<text class="tr" transform="translate(1683.1 671.4) rotate(-90) scale(0.9823 1)" x="0" y="9.6" font-size="26.8">300</text>
<text class="t" transform="translate(1643.9 656) rotate(-90) scale(0.8615 1)" x="0" y="11.2" font-size="31.2">45</text>
<text class="t" transform="translate(1644.3 826.1) rotate(-90) scale(0.8842 1)" x="0" y="10.9" font-size="30.4">45</text>
<text class="t" transform="translate(1644.9 968.6) rotate(-90) scale(0.8613 1)" x="0" y="11.3" font-size="31.6">30</text>
<text class="t" transform="translate(1644 1125.9) rotate(-90) scale(0.8690 1)" x="0" y="11.1" font-size="30.9">50</text>
<text class="t" transform="translate(395.7 162.5) rotate(-90) scale(0.9198 1)" x="0" y="10.6" font-size="29.7">40</text>
<text class="t" transform="translate(394.7 289) rotate(-90) scale(0.8616 1)" x="0" y="11.1" font-size="30.9">30</text>
<text class="t" transform="translate(95.1 272.8) rotate(0) scale(1.0013 1)" x="0" y="9.2" font-size="25.6">10</text>
<text class="t" transform="translate(242.2 272.8) rotate(0) scale(1.0472 1)" x="0" y="9.2" font-size="25.6">70</text>
<text class="t" transform="translate(750.6 178) rotate(-45) scale(0.9500 1)" x="0" y="9.9" font-size="27.5">&#934;60</text>
<text class="t" transform="translate(571.7 159.9) rotate(-90) scale(0.8800 1)" x="0" y="10.9" font-size="30.4">45</text>
<text class="t" transform="translate(20.2 597.1) rotate(-90) scale(0.9398 1)" x="0" y="10.5" font-size="29.4">70</text>
<text class="t" transform="translate(20 809.8) rotate(-90) scale(0.8482 1)" x="0" y="11.1" font-size="30.9">39</text>
<text class="t" transform="translate(19.3 942.4) rotate(-90) scale(0.8904 1)" x="0" y="10.7" font-size="29.8">35</text>
<text class="t" transform="translate(17.8 1076.7) rotate(-90) scale(0.8960 1)" x="0" y="10.8" font-size="30.2">34</text>
<text class="t" transform="translate(15.3 1175.9) rotate(-90) scale(0.8555 1)" x="0" y="11.1" font-size="30.9">20</text>
<text class="t" transform="translate(93.9 1242.6) rotate(0) scale(1.0938 1)" x="0" y="8.8" font-size="24.6">10</text>
<text class="t" transform="translate(228.6 1241.1) rotate(0) scale(1.0222 1)" x="0" y="9.5" font-size="26.7">64</text>
<text class="t" transform="translate(267.6 1277.9) rotate(0) scale(1.0554 1)" x="0" y="8.9" font-size="24.7">100</text>
<text class="t" transform="translate(94.6 638.6) rotate(0) scale(0.9517 1)" x="0" y="9.2" font-size="25.8">10</text>
<text class="t" transform="translate(130.1 638.8) rotate(0) scale(0.9646 1)" x="0" y="9.5" font-size="26.6">10</text>
<text class="t" transform="translate(179.3 638.8) rotate(0) scale(0.9453 1)" x="0" y="9.5" font-size="26.5">15</text>
<text class="t" transform="translate(227 638.4) rotate(0) scale(0.9659 1)" x="0" y="9.5" font-size="26.7">10</text>
<text class="t" transform="translate(272.3 640.6) rotate(0) scale(0.9643 1)" x="0" y="9.6" font-size="26.8">15</text>
<text class="t" transform="translate(320.6 640) rotate(0) scale(0.9736 1)" x="0" y="9.2" font-size="25.6">10</text>
<text class="t" transform="translate(369.3 638.5) rotate(-90) scale(0.8864 1)" x="0" y="10.6" font-size="29.7">20</text>
<text class="t" transform="translate(371.2 705.8) rotate(-90) scale(0.8174 1)" x="0" y="10.7" font-size="29.8">15</text>
<text class="t" transform="translate(557.4 488.3) rotate(0) scale(1.0549 1)" x="0" y="9" font-size="25.1">55</text>
<text class="t" transform="translate(772 505) scale(0.9910 1)" x="0" y="9.4" font-size="26.4">11om&#1074;&#934;22</text>
<text class="t" transform="translate(564.7 818.8) rotate(-90) scale(0.8751 1)" x="0" y="11.1" font-size="30.9">60</text>
<text class="t" transform="translate(727.8 763.4) rotate(-90) scale(0.9210 1)" x="0" y="10.9" font-size="30.5">30</text>
<text class="t" transform="translate(726.1 873.5) rotate(-90) scale(0.9128 1)" x="0" y="10.8" font-size="30">30</text>
<text class="t" transform="translate(565.2 1073.4) rotate(-90) scale(0.8881 1)" x="0" y="10.8" font-size="30.2">75</text>
<text class="t" transform="translate(1140.2 489.8) rotate(0) scale(0.9746 1)" x="0" y="8.9" font-size="25">16</text>
<text class="t" transform="translate(1389.4 490) rotate(0) scale(0.9384 1)" x="0" y="9.4" font-size="26.4">16</text>
<text class="t" transform="translate(1532.7 532.2) rotate(-90) scale(0.8451 1)" x="0" y="10.5" font-size="29.2">10</text>
<text class="t" transform="translate(1532.7 704.5) rotate(-90) scale(0.8428 1)" x="0" y="10.5" font-size="29.3">10</text>
<text class="t" transform="translate(1037.5 682.4) scale(0.9759 1)" x="0" y="9.5" font-size="26.7">2 om&#1074; &#934;19</text>
<text class="t" transform="translate(1204.2 746) rotate(-90) scale(0.8287 1)" x="0" y="10.7" font-size="29.9">10</text>
<text class="t" transform="translate(1286.8 691.6) scale(1.0283 1)" x="0" y="9.2" font-size="25.6">39om&#1074;&#934;8</text>
<text class="t" transform="translate(1015.1 836.4) rotate(0) scale(1.0404 1)" x="0" y="8.8" font-size="24.5">16</text>
<text class="t" transform="translate(1462.4 1096) rotate(-90) scale(0.8650 1)" x="0" y="11" font-size="30.6">36</text>
<text class="t" transform="translate(1466.3 1195) rotate(0) scale(1.0124 1)" x="0" y="9.6" font-size="26.9">24</text>
<text class="t" transform="translate(1570 1231.2) rotate(0) scale(0.9831 1)" x="0" y="9.7" font-size="27">30</text>
<text class="t" transform="translate(1455.1 1252.7) rotate(0) scale(1.0222 1)" x="0" y="10.1" font-size="28.1">90</text>
<text class="t" transform="translate(1240.1 1273.7) rotate(0) scale(1.0110 1)" x="0" y="9" font-size="25.2">160</text>
</svg>
</body></html>
